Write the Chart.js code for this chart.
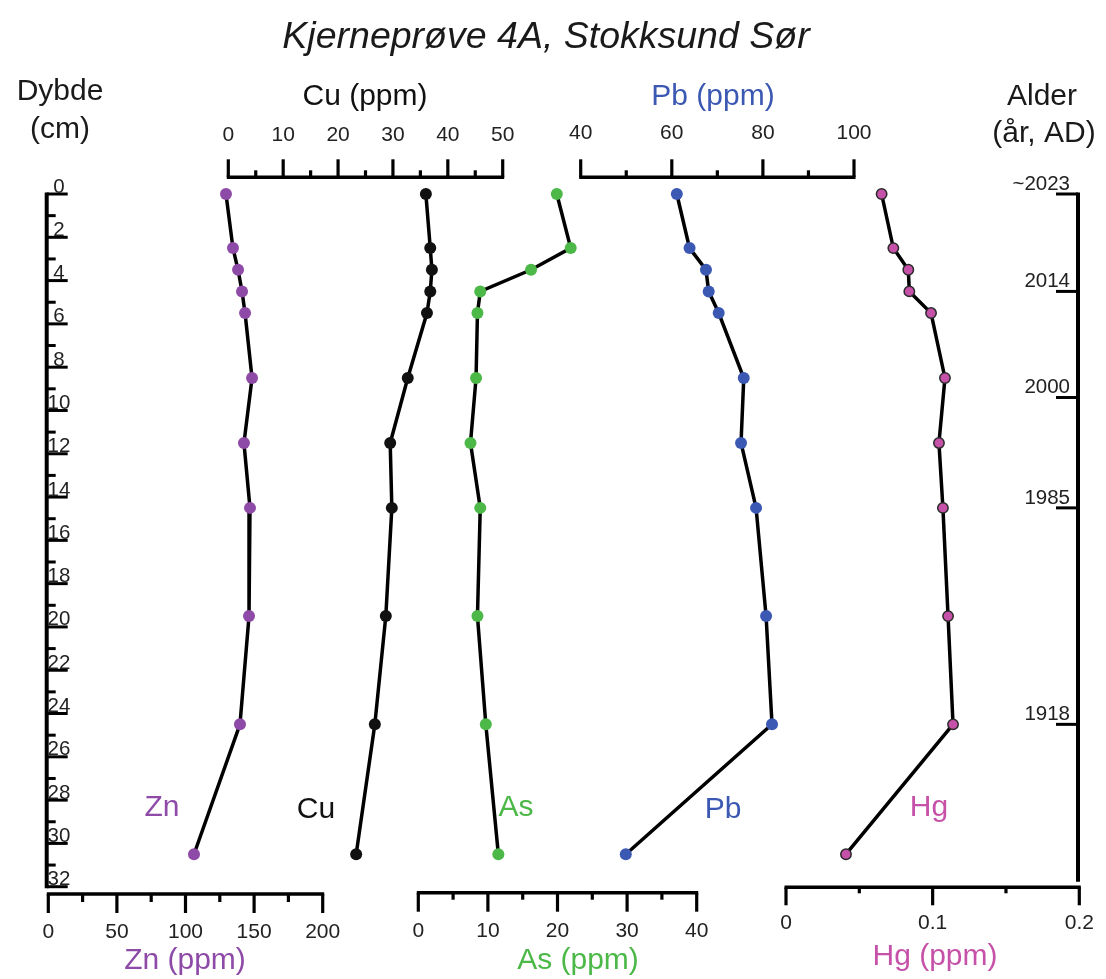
<!DOCTYPE html>
<html><head><meta charset="utf-8">
<script src="https://cdn.jsdelivr.net/npm/chart.js@4.4.0/dist/chart.umd.min.js"></script>
<style>html,body{margin:0;padding:0;background:#fff}canvas{display:block}</style>
</head><body>
<canvas id="c" width="1106" height="979"></canvas>
<script>
// ---------- data ----------
const depthCm = [0, 2.5, 3.5, 4.5, 5.5, 8.5, 11.5, 14.5, 19.5, 24.5, 30.5];
const znPpm = [129.5, 134.6, 138.3, 141.2, 143.4, 148.5, 142.6, 147.0, 146.3, 139.7, 106.2];
const cuPpm = [36.0, 36.8, 37.1, 36.8, 36.2, 32.7, 29.5, 29.8, 28.7, 26.7, 23.3];
const asPpm = [19.9, 21.9, 16.2, 8.9, 8.5, 8.3, 7.5, 8.9, 8.5, 9.7, 11.5];
const pbPpm = [61.1, 63.9, 67.5, 68.1, 70.3, 75.8, 75.2, 78.5, 80.7, 82.0, 49.9];
const hgPpm = [0.0652, 0.0732, 0.0834, 0.0841, 0.0989, 0.1084, 0.1043, 0.1070, 0.1105, 0.1139, 0.0409];

const depthTicks = Array.from({length: 33}, (_, i) => i);
const znTicks = [0, 50, 100, 150, 200];
const znMinor = [25, 75, 125, 175];
const cuTicks = [0, 10, 20, 30, 40, 50];
const cuMinor = [5, 15, 25, 35, 45];
const asTicks = [0, 10, 20, 30, 40];
const asMinor = [5, 15, 25, 35];
const pbTicks = [40, 60, 80, 100];
const pbMinor = [50, 70, 90];
const hgTicks = [0, 0.1, 0.2];
const hgMinor = [0.05, 0.15];
const ageLabels = ['~2023', '2014', '2000', '1985', '1918'];
const ageDepths = [0, 4.5, 9.4, 14.5, 24.5];

// ---------- styles / layout ----------
const FONT = '"Liberation Sans", Arial, Helvetica, sans-serif';
const COL = {zn: '#8e4aa7', cu: '#111111', as: '#4cb848', pb: '#3b58b3', hg: '#c651a8'};
const AREA = {left: 40, right: 1086, top: 194, bottom: 886.7, width: 1106, height: 979};

const AX = {
  xZn: {v0: 0, v1: 200, p0: 48.3, p1: 322.7, y: 894, side: 1, major: znTicks, minor: znMinor, majLen: 19, minLen: 8, labelY: 932, title: 'Zn (ppm)', tx: 185, ty: 961, color: COL.zn},
  xCu: {v0: 0, v1: 50, p0: 228.3, p1: 502.7, y: 177.3, side: -1, major: cuTicks, minor: cuMinor, majLen: 18, minLen: 7, labelY: 135, title: 'Cu (ppm)', tx: 365, ty: 97, color: COL.cu},
  xAs: {v0: 0, v1: 40, p0: 418.3, p1: 696.7, y: 892.7, side: 1, major: asTicks, minor: asMinor, majLen: 19, minLen: 7, labelY: 931, title: 'As (ppm)', tx: 578, ty: 961, color: COL.as},
  xPb: {v0: 40, v1: 100, p0: 580.7, p1: 854, y: 177.3, side: -1, major: pbTicks, minor: pbMinor, majLen: 18, minLen: 7, labelY: 133, title: 'Pb (ppm)', tx: 713, ty: 97, color: COL.pb},
  xHg: {v0: 0, v1: 0.2, p0: 786, p1: 1079.3, y: 887.3, side: 1, major: hgTicks, minor: hgMinor, majLen: 18, minLen: 6, labelY: 923, title: 'Hg (ppm)', tx: 935, ty: 957, color: COL.hg}
};
const SERIES_LABELS = [
  {text: 'Zn', x: 162, y: 808, color: COL.zn},
  {text: 'Cu', x: 316, y: 810, color: COL.cu},
  {text: 'As', x: 516, y: 808, color: COL.as},
  {text: 'Pb', x: 723, y: 810, color: COL.pb},
  {text: 'Hg', x: 929, y: 808, color: COL.hg}
];

function scaleRange(a) {
  const k = (a.v1 - a.v0) / (a.p1 - a.p0);
  return {min: a.v0 - (a.p0 - AREA.left) * k, max: a.v1 + (AREA.right - a.p1) * k};
}

const scales = {
  y: {type: 'linear', reverse: true, min: 0, max: 32, display: false}
};
Object.keys(AX).forEach(id => {
  const r = scaleRange(AX[id]);
  scales[id] = {type: 'linear', axis: 'x', position: 'bottom', min: r.min, max: r.max, display: false};
});

function series(label, vals, axisId, color, outline) {
  return {
    label: label,
    data: vals.map((v, i) => ({x: v, y: depthCm[i]})),
    xAxisID: axisId, yAxisID: 'y',
    borderColor: '#000', borderWidth: 3.5,
    pointBackgroundColor: color,
    pointBorderColor: outline ? '#2a2a2a' : color,
    pointBorderWidth: outline ? 1.5 : 0,
    pointRadius: outline ? 5.2 : 6,
    pointHoverRadius: 6,
    tension: 0, clip: false, showLine: true
  };
}

const axisPlugin = {
  id: 'coreAxes',
  afterDraw(chart) {
    const ctx = chart.ctx;
    const ys = chart.scales.y;
    ctx.save();
    ctx.strokeStyle = '#000';
    ctx.lineCap = 'butt';

    // Title
    ctx.font = 'italic 37.5px ' + FONT;
    ctx.textAlign = 'center'; ctx.textBaseline = 'middle';
    ctx.fillStyle = '#1a1a1a';
    ctx.fillText('Kjerneprøve 4A, Stokksund Sør', 546, 38);

    // Left / right headers
    ctx.font = '30px ' + FONT;
    ctx.fillText('Dybde', 60, 92);
    ctx.fillText('(cm)', 60, 130);
    ctx.fillText('Alder', 1042, 97);
    ctx.fillText('(år, AD)', 1044, 134);

    // Depth axis
    const dx = 46.7;
    ctx.lineWidth = 4;
    ctx.beginPath();
    ctx.moveTo(dx, ys.getPixelForValue(0) - 1.5);
    ctx.lineTo(dx, ys.getPixelForValue(32) + 1.5);
    ctx.stroke();
    ctx.lineWidth = 3;
    ctx.font = '20.5px ' + FONT;
    ctx.fillStyle = '#222';
    ctx.textAlign = 'center'; ctx.textBaseline = 'alphabetic';
    depthTicks.forEach(d => {
      const y = ys.getPixelForValue(d);
      const len = d % 2 === 0 ? 21 : 9;
      ctx.beginPath(); ctx.moveTo(dx, y); ctx.lineTo(dx + len, y); ctx.stroke();
      if (d % 2 === 0) ctx.fillText(String(d), 59, y - 1.5);
    });

    // Age axis
    const ax = 1078;
    ctx.lineWidth = 4;
    ctx.beginPath();
    ctx.moveTo(ax, ys.getPixelForValue(0) - 1.5);
    ctx.lineTo(ax, 881.7);
    ctx.stroke();
    ctx.lineWidth = 3;
    ctx.font = '20.5px ' + FONT;
    ctx.textAlign = 'right'; ctx.textBaseline = 'alphabetic';
    ageDepths.forEach((d, i) => {
      const y = ys.getPixelForValue(d);
      ctx.beginPath(); ctx.moveTo(ax - 22, y); ctx.lineTo(ax, y); ctx.stroke();
      ctx.fillText(ageLabels[i], 1070, y - 4);
    });

    // Element axes
    Object.keys(AX).forEach(id => {
      const a = AX[id];
      const s = chart.scales[id];
      const x0 = s.getPixelForValue(a.v0), x1 = s.getPixelForValue(a.v1);
      ctx.lineWidth = 3.5;
      ctx.beginPath(); ctx.moveTo(x0 - 1.5, a.y); ctx.lineTo(x1 + 1.5, a.y); ctx.stroke();
      ctx.lineWidth = 3.2;
      a.major.forEach(v => {
        const x = s.getPixelForValue(v);
        ctx.beginPath(); ctx.moveTo(x, a.y); ctx.lineTo(x, a.y + a.side * a.majLen); ctx.stroke();
      });
      a.minor.forEach(v => {
        const x = s.getPixelForValue(v);
        ctx.beginPath(); ctx.moveTo(x, a.y); ctx.lineTo(x, a.y + a.side * a.minLen); ctx.stroke();
      });
      ctx.font = '21px ' + FONT;
      ctx.fillStyle = '#222';
      ctx.textAlign = 'center'; ctx.textBaseline = 'middle';
      a.major.forEach(v => {
        ctx.fillText(String(v), s.getPixelForValue(v), a.labelY);
      });
      ctx.font = '30px ' + FONT;
      ctx.fillStyle = a.color;
      ctx.fillText(a.title, a.tx, a.ty);
    });

    // Series labels
    ctx.font = '30px ' + FONT;
    ctx.textAlign = 'center'; ctx.textBaseline = 'middle';
    SERIES_LABELS.forEach(l => { ctx.fillStyle = l.color; ctx.fillText(l.text, l.x, l.y); });
    ctx.restore();
  }
};

new Chart(document.getElementById('c'), {
  type: 'line',
  data: {
    datasets: [
      series('Zn', znPpm, 'xZn', COL.zn, false),
      series('Cu', cuPpm, 'xCu', COL.cu, false),
      series('As', asPpm, 'xAs', COL.as, false),
      series('Pb', pbPpm, 'xPb', COL.pb, false),
      series('Hg', hgPpm, 'xHg', COL.hg, true)
    ]
  },
  options: {
    responsive: false, animation: false, devicePixelRatio: 1,
    layout: {padding: {left: AREA.left, right: AREA.width - AREA.right, top: AREA.top, bottom: AREA.height - AREA.bottom}},
    plugins: {legend: {display: false}, tooltip: {enabled: false}, title: {display: false}},
    scales: scales
  },
  plugins: [axisPlugin]
});
</script>
</body></html>
